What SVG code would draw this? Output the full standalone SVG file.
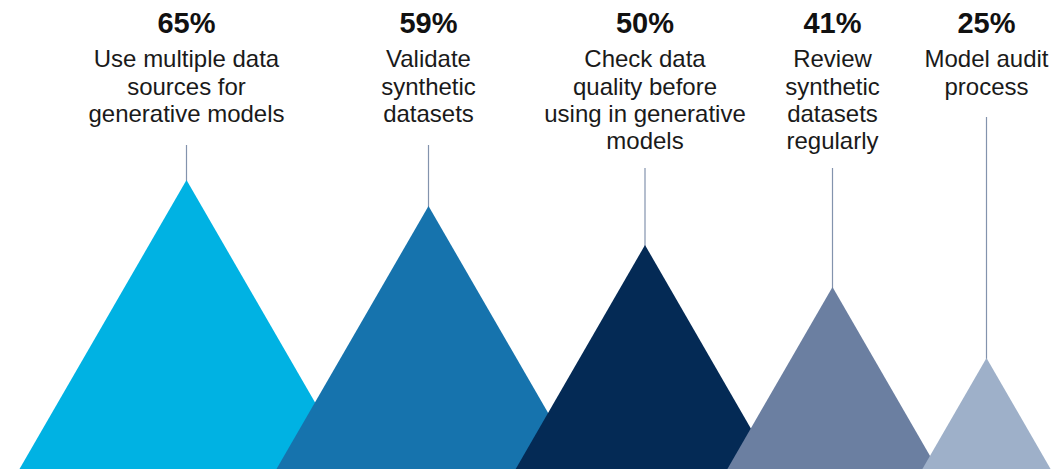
<svg xmlns="http://www.w3.org/2000/svg" width="1063" height="469" viewBox="0 0 1063 469">
<style>
.pct{font-family:"Liberation Sans",Arial,sans-serif;font-weight:bold;font-size:29px;fill:#111;text-anchor:middle}
.lbl{font-family:"Liberation Sans",Arial,sans-serif;font-size:24px;fill:#1a1a1a;text-anchor:middle}
.lead{stroke:#8393ad;stroke-width:1.2;fill:none}
</style>
<rect width="1063" height="469" fill="#ffffff"/>
<g id="connectors">
<line class="lead" x1="186.5" y1="145" x2="186.5" y2="182"/>
<line class="lead" x1="428.5" y1="145" x2="428.5" y2="208"/>
<line class="lead" x1="645" y1="168" x2="645" y2="247"/>
<line class="lead" x1="832.5" y1="168" x2="832.5" y2="289"/>
<line class="lead" x1="986.5" y1="117" x2="986.5" y2="360"/>
</g>
<g id="node-65">
<polygon points="186.5,180 19.5,469 353.5,469" fill="#00b2e3"/>
<text class="pct" x="186.5" y="33">65%</text>
<text class="lbl" x="186.5" y="67">Use multiple data</text>
<text class="lbl" x="186.5" y="95">sources for</text>
<text class="lbl" x="186.5" y="122">generative models</text>
</g>
<g id="node-59">
<polygon points="428.5,206 276.5,469 580.5,469" fill="#1673ad"/>
<text class="pct" x="428.5" y="33">59%</text>
<text class="lbl" x="428.5" y="67">Validate</text>
<text class="lbl" x="428.5" y="95">synthetic</text>
<text class="lbl" x="428.5" y="122">datasets</text>
</g>
<g id="node-50">
<polygon points="645,245 515.7,469 774.3,469" fill="#042a55"/>
<text class="pct" x="645" y="33">50%</text>
<text class="lbl" x="645" y="67">Check data</text>
<text class="lbl" x="645" y="95">quality before</text>
<text class="lbl" x="645" y="122">using in generative</text>
<text class="lbl" x="645" y="149">models</text>
</g>
<g id="node-41">
<polygon points="832.5,287 727.4,469 937.6,469" fill="#6b7fa1"/>
<text class="pct" x="832.5" y="33">41%</text>
<text class="lbl" x="832.5" y="67">Review</text>
<text class="lbl" x="832.5" y="95">synthetic</text>
<text class="lbl" x="832.5" y="122">datasets</text>
<text class="lbl" x="832.5" y="149">regularly</text>
</g>
<g id="node-25">
<polygon points="986.5,358 922.4,469 1050.6,469" fill="#9eb0c9"/>
<text class="pct" x="986.5" y="33">25%</text>
<text class="lbl" x="986.5" y="67">Model audit</text>
<text class="lbl" x="986.5" y="95">process</text>
</g>
</svg>
